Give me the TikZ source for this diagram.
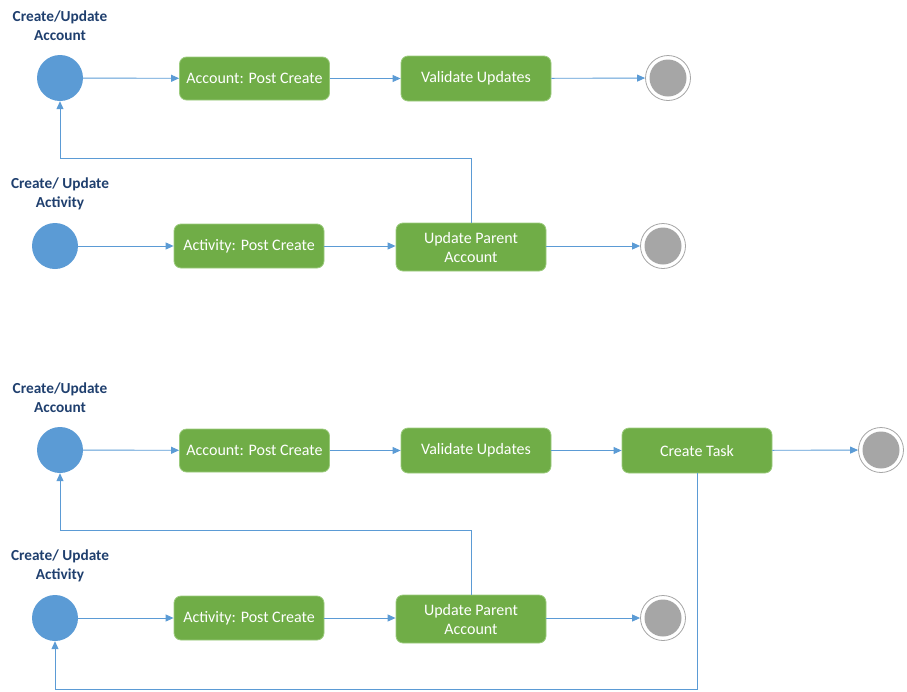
\documentclass[tikz,border=0pt]{standalone}
\usepackage{fontspec}
\setmainfont{Carlito}
\usetikzlibrary{arrows.meta}
\definecolor{flowblue}{HTML}{5B9BD5}
\definecolor{actgreen}{HTML}{70AD47}
\definecolor{actedge}{HTML}{9CCB7E}
\definecolor{endgray}{HTML}{A6A6A6}
\definecolor{labelnavy}{HTML}{1F3F6E}
\tikzset{
  startdot/.style={circle, fill=flowblue, minimum size=46pt, inner sep=0pt},
  endring/.style={circle, draw=endgray, line width=0.8pt, fill=white, minimum size=45pt, inner sep=0pt},
  endcore/.style={fill=endgray},
  actbox/.style={rounded corners=7pt, fill=actgreen, draw=actedge, line width=0.8pt,
    minimum width=150pt, minimum height=44pt, inner sep=2pt, text=white, align=center,
    font=\fontsize{16}{19}\selectfont},
  lanelabel/.style={text=labelnavy, align=center, font=\bfseries\fontsize{15.3}{19}\selectfont},
  flow/.style={draw=flowblue, line width=0.9pt, -{Triangle[length=8pt,width=7pt]}},
}
\begin{document}
\begin{tikzpicture}[x=1pt, y=-1pt]
\useasboundingbox (0,0) rectangle (907,691);

% ---------- first diagram ----------
\node[lanelabel] (l1) at (60,25.5) {Create/Update\\Account};
\node[startdot] (s1) at (60,78) {};
\node[actbox, minimum height=43pt] (a1) at (254.5,78.5) {Account: Post Create};
\node[actbox, minimum height=45pt] (v1) at (476,78.5) {Validate Updates};
\node[endring] (e1) at (668,78) {};
\fill[endcore] (e1) circle (18.5);

\node[lanelabel] (l2) at (60,193.5) {Create/ Update\\Activity};
\node[startdot] (s2) at (55,246) {};
\node[actbox] (p2) at (249,246) {Activity: Post Create};
\node[actbox, minimum height=48pt] (u2) at (471,247) {Update Parent\\Account};
\node[endring] (e2) at (663,246) {};
\fill[endcore] (e2) circle (18.5);

\draw[flow] (s1) -- (a1);
\draw[flow] (a1) -- (v1);
\draw[flow] (v1) -- (e1);
\draw[flow] (s2) -- (s2 -| p2.west);
\draw[flow] (p2) -- (p2 -| u2.west);
\draw[flow] (u2.east |- e2) -- (e2);
\draw[flow] (u2.north) -- (u2.north |- 0,158) -| (s1.south);

% ---------- second diagram ----------
\node[lanelabel] (l3) at (60,397.5) {Create/Update\\Account};
\node[startdot] (s3) at (60,450) {};
\node[actbox, minimum height=43pt] (a3) at (254.5,450.5) {Account: Post Create};
\node[actbox, minimum height=45pt] (v3) at (476,450.5) {Validate Updates};
\node[actbox, minimum height=45pt] (t3) at (697,450.5) {Create Task};
\node[endring] (e3) at (881,450) {};
\fill[endcore] (e3) circle (18.5);

\node[lanelabel] (l4) at (60,565.5) {Create/ Update\\Activity};
\node[startdot] (s4) at (55,618) {};
\node[actbox] (p4) at (249,618) {Activity: Post Create};
\node[actbox, minimum height=48pt] (u4) at (471,619) {Update Parent\\Account};
\node[endring] (e4) at (663,618) {};
\fill[endcore] (e4) circle (18.5);

\draw[flow] (s3) -- (a3);
\draw[flow] (a3) -- (v3);
\draw[flow] (v3) -- (t3);
\draw[flow] (t3) -- (e3);
\draw[flow] (s4) -- (s4 -| p4.west);
\draw[flow] (p4) -- (p4 -| u4.west);
\draw[flow] (u4.east |- e4) -- (e4);
\draw[flow] (u4.north) -- (u4.north |- 0,530) -| (s3.south);
\draw[flow] (t3.south) -- (t3.south |- 0,689) -| (s4.south);
\end{tikzpicture}
\end{document}
